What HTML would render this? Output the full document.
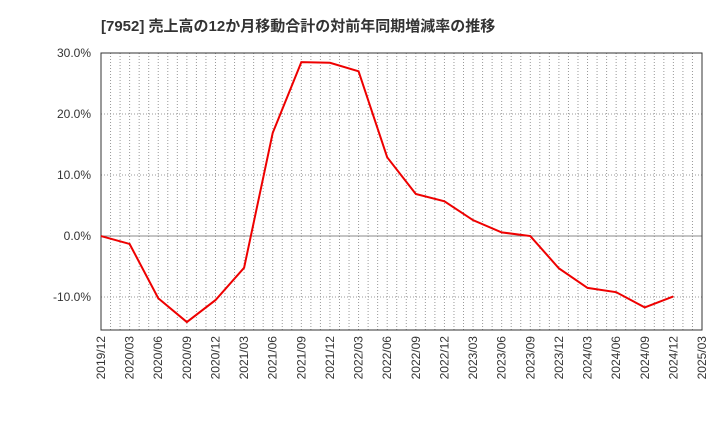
<!DOCTYPE html>
<html><head><meta charset="utf-8"><style>
body{margin:0;background:#fff;}
svg text{font-family:"Liberation Sans","Noto Sans CJK JP",sans-serif;}
</style></head><body>
<svg id="chart" width="720" height="440" xmlns="http://www.w3.org/2000/svg">
<text x="101" y="31" font-size="15" font-weight="bold" fill="#333">[7952]  売上高の12か月移動合計の対前年同期増減率の推移</text>
<g id="grid"></g><g id="axes"></g><g id="series"></g>
</svg>
<script>
const xLabels=["2019/12","2020/03","2020/06","2020/09","2020/12","2021/03","2021/06","2021/09","2021/12","2022/03","2022/06","2022/09","2022/12","2023/03","2023/06","2023/09","2023/12","2024/03","2024/06","2024/09","2024/12","2025/03"];
const values=[0.0,-1.3,-10.2,-14.1,-10.5,-5.2,16.9,28.5,28.4,27.0,12.9,6.9,5.7,2.6,0.6,0.0,-5.3,-8.5,-9.2,-11.7,-9.9];
const yTicks=[30,20,10,0,-10];
const yTickLabels=["30.0%","20.0%","10.0%","0.0%","-10.0%"];
const L=101,R=702,T=53,B=330,yMax=30,yMin=-15.4;
const ns="http://www.w3.org/2000/svg";
const X=i=>L+(R-L)*i/(xLabels.length-1);
const Y=v=>T+(yMax-v)/(yMax-yMin)*(B-T);
function mk(tag,attrs,parent){const e=document.createElementNS(ns,tag);for(const k in attrs)e.setAttribute(k,attrs[k]);parent.appendChild(e);return e;}
const grid=document.getElementById('grid'),axes=document.getElementById('axes'),series=document.getElementById('series');
const months=(xLabels.length-1)*3;
for(let m=1;m<months;m++){const x=L+(R-L)*m/months;
const ln=mk('line',{x1:x,x2:x,y1:T,y2:B,stroke:'#999','stroke-dasharray':'1,2','stroke-width':1},grid);

}
yTicks.forEach((t,i)=>{const y=Y(t);
const ln=mk('line',{x1:L,x2:R,y1:y,y2:y,stroke:t===0?'#888':'#999','stroke-dasharray':t===0?'none':'1,2','stroke-width':1},grid);


const tx=mk('text',{x:L-10,y:y+4,'text-anchor':'end','font-size':12,fill:'#333'},axes);tx.textContent=yTickLabels[i];

});
xLabels.forEach((lab,i)=>{const x=X(i);
const tx=mk('text',{x:0,y:0,'text-anchor':'end','font-size':12,fill:'#333',transform:`translate(${x+4},${B+6}) rotate(-90)`},axes);tx.textContent=lab;

});
const frame=mk('rect',{x:L,y:T,width:R-L,height:B-T,fill:'none',stroke:'#333','stroke-width':1},axes);


const pl=mk('polyline',{points:values.map((v,i)=>X(i)+','+Y(v)).join(' '),fill:'none',stroke:'#e00','stroke-width':2},series);


</script>
</body></html>
